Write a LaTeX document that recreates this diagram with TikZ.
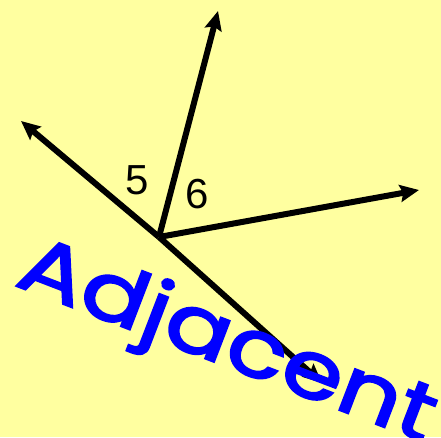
\documentclass[tikz,border=0pt]{standalone}
\usepackage{fontspec}
\setmainfont{Liberation Sans}
\newfontfamily\handfont{Poppins}[FakeBold=2.5]
\usetikzlibrary{arrows.meta}
\definecolor{paper}{RGB}{255,255,160}
\definecolor{ink}{RGB}{0,0,255}

\begin{document}
\begin{tikzpicture}[x=1pt, y=-1pt, >={Stealth[length=19pt, width=17pt, inset=3pt]},
    ray/.style={line width=6pt, ->},
    num/.style={font=\fontsize{42}{42}\selectfont, inner sep=0pt},
    hand/.style={font=\handfont\fontsize{80}{80}\selectfont, text=ink, inner sep=0pt}]
    \fill[paper] (0,0) rectangle (441,437);
    \useasboundingbox (0,0) rectangle (441,437);

    \coordinate (o) at (159,237);
    \coordinate (ul) at (21,121);
    \coordinate (up) at (218,11);
    \coordinate (rt) at (419,190);
    \coordinate (lr) at (322,383);

    \draw[ray] (o) -- (ul);
    \draw[ray] (o) -- (up);
    \draw[ray] (o) -- (rt);
    \draw[ray] (o) -- (lr);

    \node[num] (five) at (137,180) {5};
    \node[num] (six) at (197,194) {6};

    \node[hand, rotate=-21, xscale=1.22] (word) at (226,345) {Adjacent};
\end{tikzpicture}
\end{document}
